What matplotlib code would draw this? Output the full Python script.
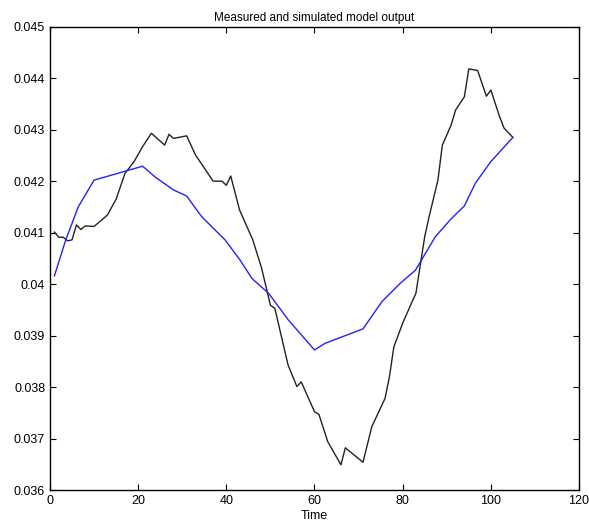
import matplotlib
matplotlib.use('Agg')
import matplotlib.pyplot as plt
from matplotlib.ticker import FuncFormatter

plt.rcParams['font.family'] = ['Liberation Sans', 'DejaVu Sans']

# measured output
t_meas = [1, 2, 3, 4, 5, 6, 7, 8, 10, 13, 15, 17, 19, 21, 23, 26, 27, 28, 31, 33,
          37, 39, 40, 41, 43, 46, 48, 50, 51, 54, 56, 57, 60, 61, 63, 66, 67, 71, 73, 76,
          77, 78, 80, 82, 83, 85, 86, 88, 89, 91, 92, 94, 95, 97, 99, 100, 102, 103, 105]
y_meas = [0.04101, 0.04091, 0.04091, 0.04084, 0.04086, 0.04115, 0.04106, 0.04113, 0.04112, 0.04134,
          0.04165, 0.04215, 0.04237, 0.04267, 0.04293, 0.04270, 0.04291, 0.04283, 0.04288, 0.04251,
          0.04200, 0.04200, 0.04192, 0.04210, 0.04144, 0.04086, 0.04031, 0.03959, 0.03953, 0.03843,
          0.03801, 0.03810, 0.03752, 0.03747, 0.03694, 0.03649, 0.03682, 0.03654, 0.03723, 0.03778,
          0.03820, 0.03878, 0.03924, 0.03963, 0.03982, 0.04092, 0.04131, 0.04202, 0.04270, 0.04309,
          0.04338, 0.04364, 0.04418, 0.04415, 0.04365, 0.04377, 0.04325, 0.04303, 0.04285]

# simulated model output
t_sim = [1, 3.5, 6.4, 10, 21, 24, 28, 31, 34.4, 39.7, 43.1, 45.8, 49.6, 54.1, 60, 62.4, 71,
         75.3, 79.5, 82.9, 87.4, 90.8, 94, 96.5, 100, 105]
y_sim = [0.04016, 0.04084, 0.04150, 0.04202, 0.04229, 0.04207, 0.04183, 0.04171, 0.04131, 0.04086,
         0.04047, 0.04011, 0.03982, 0.03930, 0.03872, 0.03885, 0.03913, 0.03966, 0.04002, 0.04027,
         0.04092, 0.04125, 0.04152, 0.04196, 0.04238, 0.04285]

fig = plt.figure(figsize=(5.89, 5.29), dpi=100)
ax = fig.add_axes([0.0849, 0.0737, 0.8981, 0.8758])

ax.plot(t_meas, y_meas, color='#222222', linewidth=1.0)
ax.plot(t_sim, y_sim, color='#2222ff', linewidth=1.0)

ax.set_xlim(0, 120)
ax.set_ylim(0.036, 0.045)
ax.set_xticks(range(0, 121, 20))
ax.set_yticks([0.036 + 0.001 * i for i in range(10)])
ax.yaxis.set_major_formatter(FuncFormatter(lambda v, p: '{:g}'.format(round(v, 4))))

ax.tick_params(direction='in', top=True, right=True, labelsize=9, length=4, width=0.8)
for s in ax.spines.values():
    s.set_linewidth(1.0)

ax.set_title('Measured and simulated model output', fontsize=8.5, pad=4)
ax.set_xlabel('Time', fontsize=9, labelpad=2)

fig.savefig('out.png', dpi=100)
